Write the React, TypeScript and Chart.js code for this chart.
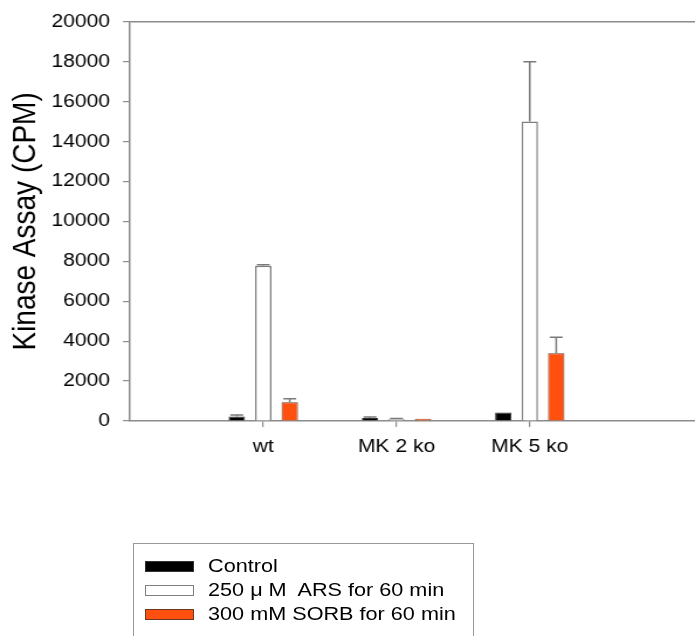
import React, { useEffect, useRef } from 'react';
import { Chart, registerables } from 'chart.js';

Chart.register(...registerables);

// ---------- data ----------
const categories = ['wt', 'MK 2 ko', 'MK 5 ko'];
const seriesLabels = ['Control', '250 \u03bc M  ARS for 60 min', '300 mM SORB for 60 min'];
const controlValues = [220, 150, 430];
const controlErrors = [80, 50, 0];
const arsValues = [7780, 90, 15000];
const arsErrors = [50, 30, 3000];
const sorbValues = [940, 110, 3400];
const sorbErrors = [170, 0, 800];
const yMin = 0;
const yMax = 20000;
const yStep = 2000;
const yAxisTitle = 'Kinase Assay (CPM)';

// ---------- styling ----------
const PAGE_W = 695;
const PAGE_H = 636;
const SX = 1.17; // horizontal stretch of the original figure
const CANVAS_W = Math.round(PAGE_W / SX);
const FONT = "'Liberation Sans', Arial, Helvetica, sans-serif";
const AXIS_COLOR = '#8c8c8c';
const seriesFill = ['#000000', '#ffffff', '#ff5010'];
const seriesBorder = ['#333333', '#7f7f7f', '#6b3a25'];
const errorSets = [controlErrors, arsErrors, sorbErrors];
const valueSets = [controlValues, arsValues, sorbValues];

const errorBarPlugin = {
  id: 'errorBars',
  afterDatasetsDraw(chart: any) {
    const ctx = chart.ctx;
    const yScale = chart.scales.y;
    ctx.save();
    ctx.strokeStyle = '#7a7a7a';
    ctx.lineWidth = 1.5;
    valueSets.forEach((vals, d) => {
      const meta = chart.getDatasetMeta(d);
      meta.data.forEach((bar: any, i: number) => {
        const err = errorSets[d][i];
        if (!err) return;
        const x = bar.x;
        const y0 = yScale.getPixelForValue(vals[i]);
        const y1 = yScale.getPixelForValue(vals[i] + err);
        const half = 5.5;
        ctx.beginPath();
        ctx.moveTo(x, y0);
        ctx.lineTo(x, y1);
        ctx.moveTo(x - half, y1);
        ctx.lineTo(x + half, y1);
        ctx.stroke();
      });
    });
    ctx.restore();
  },
  afterDraw(chart: any) {
    const { ctx, chartArea } = chart;
    ctx.save();
    ctx.strokeStyle = AXIS_COLOR;
    ctx.lineWidth = 1.5;
    ctx.beginPath();
    ctx.moveTo(chartArea.left, chartArea.top);
    ctx.lineTo(chartArea.right, chartArea.top);
    ctx.stroke();
    ctx.restore();
  },
};

export default function App() {
  const canvasRef = useRef<HTMLCanvasElement | null>(null);

  useEffect(() => {
    if (!canvasRef.current) return;
    const datasets = valueSets.map((vals, d) => ({
      label: seriesLabels[d],
      data: categories.map((_, i) => ({ x: i + 1, y: vals[i] })),
      backgroundColor: seriesFill[d],
      borderColor: seriesBorder[d],
      borderWidth: d === 1 ? 1.5 : 1,
      categoryPercentage: 0.596,
      barPercentage: 0.62,
    }));

    const chart = new Chart(canvasRef.current, {
      type: 'bar',
      data: { datasets },
      options: {
        animation: false,
        responsive: false,
        devicePixelRatio: 1,
        layout: { padding: { left: 0, right: 0, top: 20, bottom: 155 } },
        plugins: {
          legend: { display: false },
          tooltip: { enabled: false },
        },
        scales: {
          x: {
            type: 'linear',
            offset: false,
            min: 0,
            max: 4.24,
            afterBuildTicks: (scale: any) => {
              scale.ticks = categories.map((_, i) => ({ value: i + 1 }));
            },
            afterFit: (scale: any) => {
              scale.height = 60;
            },
            ticks: {
              callback: (v: any) => categories[Math.round(Number(v)) - 1] ?? '',
              color: '#000',
              font: { family: FONT, size: 18 },
              padding: 9,
              maxRotation: 0,
              autoSkip: false,
            },
            grid: {
              display: true,
              offset: false,
              drawOnChartArea: false,
              drawTicks: true,
              tickLength: 6,
              color: AXIS_COLOR,
              lineWidth: 1.2,
            },
            border: { display: true, color: AXIS_COLOR, width: 1.5 },
          },
          y: {
            type: 'linear',
            min: yMin,
            max: yMax,
            afterFit: (scale: any) => {
              scale.width = 130 / SX;
            },
            ticks: {
              stepSize: yStep,
              callback: (v: any) => String(v),
              color: '#000',
              font: { family: FONT, size: 18 },
              padding: 11,
            },
            grid: {
              display: true,
              drawOnChartArea: false,
              drawTicks: true,
              tickLength: 6,
              color: AXIS_COLOR,
              lineWidth: 1.2,
            },
            border: { display: true, color: AXIS_COLOR, width: 1.5 },
            title: {
              display: true,
              text: yAxisTitle,
              color: '#000',
              font: { family: FONT, size: 28, weight: 'normal' },
              padding: { top: 5, bottom: 0 },
            },
          },
        },
      } as any,
      plugins: [errorBarPlugin],
    });
    return () => chart.destroy();
  }, []);

  const rowCenters = [566, 590, 614];

  return (
    <div
      style={{
        position: 'fixed',
        left: 0,
        top: 0,
        width: PAGE_W,
        height: PAGE_H,
        overflow: 'hidden',
        background: '#fff',
      }}
    >
      <canvas
        ref={canvasRef}
        width={CANVAS_W}
        height={PAGE_H}
        style={{ width: PAGE_W + 'px', height: PAGE_H + 'px', display: 'block' }}
      />
      <div
        style={{
          position: 'absolute',
          left: 133,
          top: 543,
          width: 341,
          height: 120,
          border: '1.5px solid #999',
          boxSizing: 'border-box',
        }}
      />
      {seriesLabels.map((label, i) => (
        <React.Fragment key={label}>
          <div
            style={{
              position: 'absolute',
              left: 145,
              top: rowCenters[i] - 5.5,
              width: 49,
              height: 11,
              boxSizing: 'border-box',
              background: seriesFill[i],
              border: '1px solid ' + seriesBorder[i],
            }}
          />
          <div
            style={{
              position: 'absolute',
              left: 208,
              top: rowCenters[i] - 11,
              height: 22,
              lineHeight: '22px',
              fontFamily: FONT,
              fontSize: '18.5px',
              color: '#000',
              whiteSpace: 'pre',
              transform: `scaleX(${SX})`,
              transformOrigin: 'left center',
            }}
          >
            {label}
          </div>
        </React.Fragment>
      ))}
    </div>
  );
}
